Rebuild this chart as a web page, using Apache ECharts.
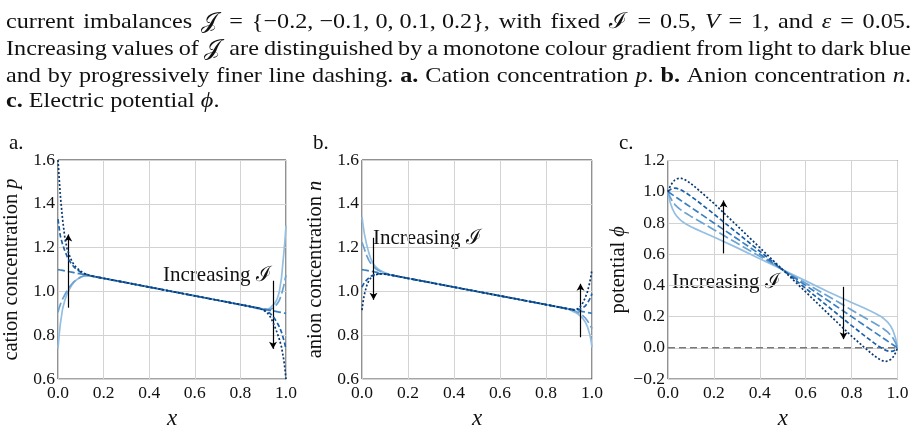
<!DOCTYPE html>
<html><head><meta charset="utf-8">
<script src="https://cdn.jsdelivr.net/npm/echarts@6/dist/echarts.min.js"></script>
<style>html,body{margin:0;padding:0;background:#fff}#c{width:915px;height:435px}</style>
</head><body><div id="c"></div>
<script>
// ---------- data ----------
const xs = [0,0.005,0.01,0.02,0.03,0.04,0.05,0.06,0.07,0.08,0.1,0.12,0.15,0.2,0.3,0.4,0.5,0.6,0.7,0.8,0.85,0.88,0.9,0.92,0.93,0.94,0.95,0.96,0.97,0.98,0.99,0.995,1];
const Jvalues = [-0.2,-0.1,0,0.1,0.2];
const xTicks = [0,0.2,0.4,0.6,0.8,1.0];

// panel a: cation concentration p
const pJm02 = [0.74,0.8,0.85,0.92,0.96,0.99,1.01,1.028,1.042,1.052,1.066,1.072,1.07,1.06,1.04,1.02,1.0,0.98,0.96,0.94,0.928,0.92,0.918,0.92,0.924,0.935,0.945,0.962,0.995,1.06,1.17,1.23,1.30];
const pJm01 = [0.905,0.925,0.94,0.965,0.985,1.005,1.02,1.033,1.045,1.053,1.066,1.073,1.07,1.06,1.04,1.02,1.0,0.98,0.96,0.94,0.93,0.923,0.919,0.917,0.918,0.922,0.93,0.942,0.958,0.985,1.025,1.05,1.075];
const pJ0   = [1.1,1.099,1.098,1.096,1.094,1.092,1.09,1.088,1.086,1.084,1.08,1.076,1.07,1.06,1.04,1.02,1.0,0.98,0.96,0.94,0.93,0.924,0.92,0.916,0.914,0.912,0.91,0.908,0.906,0.904,0.902,0.901,0.9];
const pJp01 = [1.33,1.29,1.255,1.215,1.185,1.16,1.14,1.125,1.112,1.102,1.088,1.079,1.07,1.06,1.04,1.02,1.0,0.98,0.96,0.94,0.93,0.924,0.918,0.908,0.9,0.89,0.876,0.86,0.84,0.815,0.78,0.76,0.735];
const pJp02 = [1.6,1.52,1.44,1.33,1.245,1.195,1.165,1.14,1.122,1.11,1.092,1.08,1.07,1.06,1.04,1.02,1.0,0.98,0.96,0.94,0.93,0.924,0.916,0.9,0.886,0.866,0.842,0.815,0.785,0.748,0.69,0.65,0.6];

// panel b: anion concentration n
const nJm02 = [1.34,1.3,1.265,1.215,1.175,1.145,1.125,1.112,1.103,1.096,1.085,1.077,1.07,1.06,1.04,1.02,1.0,0.98,0.96,0.94,0.93,0.922,0.918,0.908,0.903,0.896,0.887,0.877,0.862,0.84,0.805,0.78,0.745];
const nJm01 = [1.225,1.21,1.195,1.165,1.142,1.125,1.113,1.104,1.097,1.092,1.083,1.077,1.07,1.06,1.04,1.02,1.0,0.98,0.96,0.94,0.93,0.923,0.919,0.913,0.909,0.904,0.898,0.89,0.88,0.866,0.85,0.84,0.83];
const nJ0   = [1.1,1.099,1.098,1.096,1.094,1.092,1.09,1.088,1.086,1.084,1.08,1.076,1.07,1.06,1.04,1.02,1.0,0.98,0.96,0.94,0.93,0.924,0.92,0.916,0.914,0.912,0.91,0.908,0.906,0.904,0.902,0.901,0.9];
const nJp01 = [1.02,1.03,1.04,1.052,1.062,1.07,1.075,1.078,1.08,1.081,1.08,1.076,1.07,1.06,1.04,1.02,1.0,0.98,0.96,0.94,0.93,0.924,0.92,0.917,0.917,0.918,0.92,0.925,0.933,0.946,0.965,0.977,0.99];
const nJp02 = [0.915,0.955,0.985,1.025,1.05,1.064,1.072,1.077,1.079,1.08,1.079,1.076,1.07,1.06,1.04,1.02,1.0,0.98,0.96,0.94,0.93,0.924,0.919,0.916,0.917,0.922,0.932,0.948,0.97,0.997,1.04,1.068,1.1];

// panel c: electric potential phi
const phiJm02 = [1.0,0.96,0.93,0.888,0.86,0.84,0.825,0.812,0.801,0.792,0.776,0.762,0.742,0.71,0.642,0.571,0.5,0.429,0.358,0.29,0.258,0.238,0.224,0.208,0.199,0.188,0.175,0.16,0.14,0.112,0.07,0.04,0.0];
const phiJm01 = [1.0,0.98,0.963,0.937,0.918,0.903,0.89,0.879,0.869,0.86,0.842,0.825,0.8,0.757,0.671,0.586,0.5,0.414,0.329,0.243,0.2,0.175,0.158,0.14,0.131,0.121,0.11,0.097,0.082,0.063,0.037,0.02,0.0];
const phiJ0   = [1.0,0.995,0.99,0.98,0.97,0.96,0.95,0.94,0.93,0.92,0.9,0.88,0.85,0.8,0.7,0.6,0.5,0.4,0.3,0.2,0.15,0.12,0.1,0.08,0.07,0.06,0.05,0.04,0.03,0.02,0.01,0.005,0.0];
const phiJp01 = [1.0,1.008,1.014,1.021,1.023,1.021,1.016,1.009,1.0,0.991,0.971,0.949,0.915,0.857,0.738,0.619,0.5,0.381,0.262,0.143,0.085,0.051,0.029,0.009,0.0,-0.009,-0.016,-0.021,-0.023,-0.021,-0.014,-0.008,0.0];
const phiJp02 = [1.0,1.02,1.036,1.06,1.075,1.083,1.086,1.085,1.08,1.072,1.052,1.028,0.99,0.925,0.784,0.642,0.5,0.358,0.216,0.075,0.01,-0.028,-0.052,-0.072,-0.08,-0.085,-0.086,-0.083,-0.075,-0.06,-0.036,-0.02,0.0];
const zeroLineX = [0,1];
const zeroLineY = [0,0];

// annotation arrows: [x, yStart, yEnd]
const arrowsA = [[0.045,0.926,1.26],[0.943,1.049,0.738]];
const arrowsB = [[0.05,1.245,0.962],[0.95,0.791,1.035]];
const arrowsC = [[0.242,0.605,0.944],[0.765,0.391,0.056]];

// ---------- style ----------
const SERIF = "'Liberation Serif','DejaVu Serif',serif";
const colors = ['#94bfe2','#6aa2d3','#3a7fc0','#1a5fa8','#08386f'];
const dashes = ['solid',[10,3.5],[7,3],[4.5,2.5],[2,2]];
const grids = [
  {left:56, top:160, width:230, height:230},
  {left:362, top:160, width:230, height:230},
  {left:668, top:160.5, width:229.5, height:229.5}
];
const yNames = [
  '{r|cation concentration }{i|p}',
  '{r|anion concentration }{i|n}',
  '{r|potential }{i|ϕ}'
];
const yRanges = [[0.6,1.6],[0.6,1.6],[-0.2,1.2]];
const panels = [
  [pJm02,pJm01,pJ0,pJp01,pJp02],
  [nJm02,nJm01,nJ0,nJp01,nJp02],
  [phiJm02,phiJm01,phiJ0,phiJp01,phiJp02]
];
const arrows = [arrowsA, arrowsB, arrowsC];

const fmt = v => v.toFixed(1).replace('-', '\u2212');

const xAxes = grids.map((g,i)=>({
  type:'value', gridIndex:i, min:0, max:1, interval:0.2,
  axisLine:{show:false}, axisTick:{show:false},
  splitLine:{show:true, lineStyle:{color:'#d3d3d3', width:1}},
  axisLabel:{formatter:fmt, fontFamily:SERIF, fontSize:17.5, color:'#111', margin:5},
  name:'x', nameLocation:'middle', nameGap:24,
  nameTextStyle:{fontFamily:SERIF, fontStyle:'italic', fontSize:23, color:'#111'}
}));
const yAxes = grids.map((g,i)=>({
  type:'value', gridIndex:i, min:yRanges[i][0], max:yRanges[i][1], interval:0.2,
  axisLine:{show:false}, axisTick:{show:false},
  splitLine:{show:true, lineStyle:{color:'#d3d3d3', width:1}},
  axisLabel:{formatter:fmt, fontFamily:SERIF, fontSize:17.5, color:'#111', margin:3},
  name:yNames[i], nameLocation:'middle', nameGap:36,
  nameTextStyle:{rich:{
    r:{fontFamily:SERIF, fontSize:20.5, color:'#111'},
    i:{fontFamily:SERIF, fontSize:20.5, fontStyle:'italic', color:'#111'}
  }}
}));

const series = [];
panels.forEach((arrs,pi)=>{
  arrs.forEach((arr,j)=>{
    const s = {
      type:'line', xAxisIndex:pi, yAxisIndex:pi, showSymbol:false, symbol:'none',
      data: xs.map((x,k)=>[x,arr[k]]),
      lineStyle:{color:colors[j], width:1.7, type:dashes[j]},
      z:2+j, silent:true, animation:false
    };
    if (j===4) {
      s.markLine = {
        silent:true, symbol:['none','arrow'], symbolSize:[6,7], animation:false,
        lineStyle:{color:'#000', width:1.2, type:'solid'}, label:{show:false},
        data: arrows[pi].map(a=>[{coord:[a[0],a[1]]},{coord:[a[0],a[2]]}])
      };
    }
    series.push(s);
  });
});
series.push({
  type:'line', xAxisIndex:2, yAxisIndex:2, showSymbol:false, symbol:'none',
  data: zeroLineX.map((x,k)=>[x, zeroLineY[k]]),
  lineStyle:{color:'#7a7a7a', width:1.5, type:[7,4]}, z:1, silent:true, animation:false
});

// ---------- caption (justified) ----------
const CAP = 22, SX = 1.1;
const ctx = document.createElement('canvas').getContext('2d');
function capFont(st){ return (st==='i'?'italic ':'') + (st==='b'?'bold ':'') + CAP + 'px ' + SERIF; }
function mw(t,st,pad){ ctx.font = capFont(st); return ctx.measureText(t).width * SX + (pad||0); }
const capLine1 = ['current','imbalances',[['𝒥','r',3]],'=','{−0.2, −0.1, 0, 0.1, 0.2},','with','fixed',[['ℐ','r',2]],'=','0.5,',[['V','i']],'=','1,','and',[['ε','i']],'=','0.05.'];
const capLine2 = ['Increasing','values','of',[['𝒥','r',4]],'are','distinguished','by','a','monotone','colour','gradient','from','light','to','dark','blue'];
const capLine3 = ['and','by','progressively','finer','line','dashing.',[['a.','b']],'Cation','concentration',[['p','i'],['.','r']],[['b.','b']],'Anion','concentration',[['n','i'],['.','r']]];
const capLine4 = [[['c.','b']],'Electric','potential',[['ϕ','i'],['.','r']]];
const capLines = [
  {words:capLine1, base:29, justify:true},
  {words:capLine2, base:56, justify:true},
  {words:capLine3, base:83, justify:true},
  {words:capLine4, base:108, justify:false}
];
const graphics = [];
const X0 = 6, X1 = 911;
capLines.forEach(L=>{
  const words = L.words.map(w => typeof w === 'string' ? [[w,'r']] : w);
  const widths = words.map(w => w.reduce((s,seg)=>s+mw(seg[0],seg[1],seg[2]),0));
  const total = widths.reduce((a,b)=>a+b,0);
  const gap = L.justify ? (X1-X0-total)/(words.length-1) : mw(' ','r');
  let x = X0;
  words.forEach((w,k)=>{
    let sx = x;
    w.forEach(seg=>{
      graphics.push({type:'text', x:sx, y:L.base - 0.3*CAP, scaleX:SX, silent:true,
        style:{text:seg[0], font:capFont(seg[1]), fill:'#111', verticalAlign:'middle', align:'left'}});
      sx += mw(seg[0],seg[1],seg[2]);
    });
    x += widths[k] + gap;
  });
});
// panel letters
[['a.',9,149],['b.',313,149],['c.',619,149]].forEach(p=>{
  graphics.push({type:'text', x:p[1], y:p[2]-6, silent:true,
    style:{text:p[0], font:'21px '+SERIF, fill:'#111', verticalAlign:'middle'}});
});
// "Increasing I" annotations
[[163,282],[373,245],[672,289]].forEach(p=>{
  graphics.push({type:'text', x:p[0], y:p[1]-6.5, silent:true,
    style:{text:'Increasing ℐ', font:'21px '+SERIF, fill:'#111', verticalAlign:'middle'}});
});

const chart = echarts.init(document.getElementById('c'), null, {renderer:'canvas'});
chart.setOption({
  animation:false,
  backgroundColor:'#fff',
  grid: grids.map(g=>Object.assign({show:true, borderColor:'#222', borderWidth:1, backgroundColor:'transparent'}, g)),
  xAxis:xAxes, yAxis:yAxes, series:series, graphic:graphics
});
</script></body></html>
